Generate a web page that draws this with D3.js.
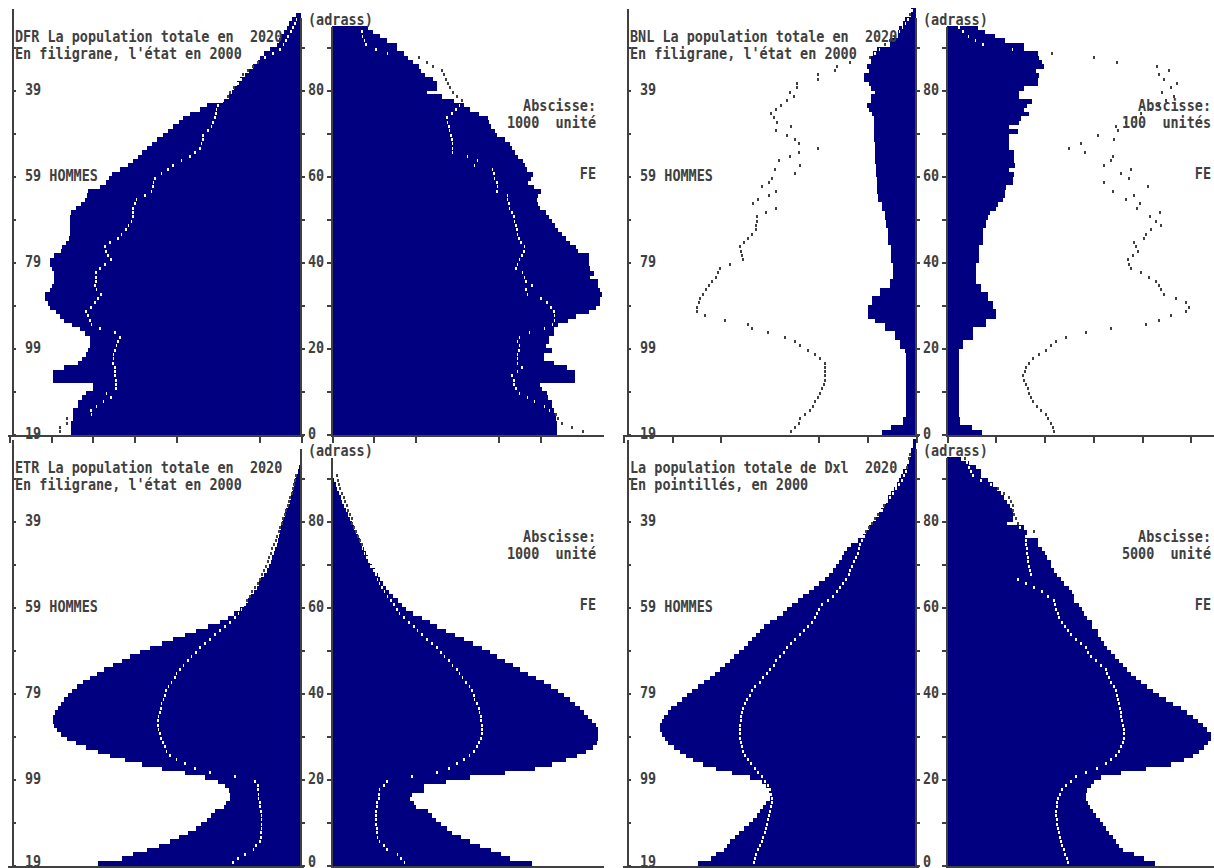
<!DOCTYPE html>
<html><head><meta charset="utf-8">
<script src="https://cdn.jsdelivr.net/npm/d3@7"></script>
<style>
body{margin:0;background:#fff}
svg{display:block}
text{font-family:"DejaVu Sans Mono","Liberation Mono",monospace;font-weight:bold;font-size:16px;fill:#404040;white-space:pre}
</style>
</head><body>
<svg id="c" width="1214" height="868"></svg>
<script>
// ---------- data (values per single year of age, index = age) ----------
const ageTicks = [80, 60, 40, 20, 0];
const birthLabels = ["39", "59 HOMMES", "79", "99", "19"];
const ageLabels = ["80", "60", "40", "20", "0"];

// DFR (units: 1000)
const dfrMen2020 = [552,552,552,547,547,547,535,535,526,516, 499,499,595,595,595,569,535,526,516,511, 506,506,506,518,530,550,569,578,588,602, 607,614,614,602,598,593,593,593,598,602, 602,593,576,574,564,557,554,554,554,554, 554,552,540,528,518,514,511,482,468,461, 454,434,415,403,391,382,370,358,346,331, 319,307,293,283,266,242,226,187,173,166, 161,154,146,134,125,115,103,98,89,74, 58,53,48,41,34,29,22,12];
const dfrWomen2020 = [540,540,540,538,538,533,528,528,518,516, 504,499,583,583,583,564,533,509,509,528, 514,521,521,533,533,542,566,586,617,634, 643,643,648,643,638,638,619,629,619,617, 617,617,590,586,571,562,552,542,535,528, 521,514,499,494,492,494,502,485,470,478, 482,468,463,458,446,439,432,427,415,396, 391,382,377,374,353,331,317,293,264,228, 252,252,242,223,214,209,194,182,173,156, 156,132,115,98,86];
const dfrMen2000 = [578,578,562,562,502,504,490,473,456,466, 444,444,444,446,446,446,451,449,449,446, 442,439,434,446,482,502,506,511,516,504, 494,487,480,490,494,492,492,492,482,470, 456,463,468,470,458,439,430,420,413,406, 403,403,403,398,394,374,358,355,353,350, 334,319,307,286,266,254,242,238,235,235, 223,214,211,206,204,202,199,185,175,170, 161,151,144,139,127,115,103,86,67,50, 41,36,31,24,19,14,10];
const dfrWomen2000 = [602,576,552,542,538,523,511,487,470,451, 442,437,437,432,446,456,446,446,446,449, 451,446,451,475,511,530,535,535,533,526, 516,502,470,466,480,466,463,458,442,446, 451,456,461,463,454,449,446,444,442,439, 437,432,427,425,422,422,396,398,396,391, 389,386,343,350,326,290,290,290,288,286, 283,281,278,276,288,298,307,312,300,290, 283,278,274,269,264,242,228,209,134,106, 82,79,74,72];

// BNL (units: 100)
const bnlMen2020 = [70,51,27,27,21,21,21,21,21,21, 21,21,21,21,21,21,21,21,21,23, 33,33,43,43,64,64,84,98,98,98, 90,90,74,74,53,53,47,47,47,47, 51,51,51,51,57,57,57,57,62,62, 64,64,70,70,78,78,80,80,80,80, 82,82,82,84,84,84,84,84,86,86, 86,86,86,86,90,96,100,92,92,84, 92,96,107,107,96,100,92,92,88,80, 53,53,37,37,35,27,23,10,10];
const bnlWomen2020 = [72,51,27,27,25,25,25,25,25,25, 25,25,25,25,25,25,25,25,25,25, 33,33,53,53,53,80,80,100,100,94, 94,84,84,70,70,59,59,59,59,59, 66,66,66,66,74,74,74,74,80,80, 84,88,100,105,115,119,119,121,135,135, 137,127,139,137,137,137,127,127,127,127, 146,127,148,152,168,158,164,174,148,148, 158,187,187,189,182,199,195,189,187,158, 158,119,98,78,64];
const bnlMen2000 = [256,248,240,238,228,217,211,207,201,197, 193,189,187,187,187,187,187,197,207,221, 238,248,269,303,336,344,392,433,449,449, 445,443,437,431,424,418,410,406,402,381, 355,357,359,361,353,344,336,328,328,326, 326,308,287,334,324,301,287,316,301,295, 248,289,238,281,258,240,201,240,248,264, 287,256,285,291,297,287,277,264,250,258, 244,244,201,201,166,162,135,94,84,74, 64,53,43,33,27,21,16,12,8];
const bnlWomen2000 = [219,217,213,207,203,193,185,176,172,168, 166,162,158,156,160,162,168,176,189,203, 213,223,244,285,336,408,435,459,490,496, 490,469,445,439,435,428,414,398,377,373, 371,381,392,387,383,404,408,418,439,428, 416,437,390,396,367,383,340,412,322,373, 357,377,322,336,340,283,250,275,342,310, 351,346,367,387,398,418,435,449,465,441, 459,472,445,435,455,431,349,301,215,135, 74,59,45,33,25];

// ETR (units: 1000)
const etrMen2020 = [487,430,403,370,341,314,293,271,252,240, 226,216,206,185,180,170,170,173,182,199, 230,278,334,382,422,458,487,516,540,562, 576,586,593,595,595,590,583,576,569,559, 550,538,523,506,490,473,451,430,410,386, 362,334,307,278,252,223,194,175,161,146, 137,127,120,113,106,101,96,89,82,77, 72,70,65,62,58,55,53,50,48,46, 43,38,36,31,26,24,22,19,17,14, 12,7,5];
const etrWomen2020 = [480,427,406,382,355,331,310,288,276,262, 250,240,230,202,197,187,192,221,221,274, 331,415,487,528,562,588,610,626,636,638, 638,638,634,624,614,605,595,583,571,557, 542,526,509,490,470,451,434,415,396,379, 360,338,317,295,274,252,235,216,194,178, 168,158,146,137,130,122,115,110,103,96, 91,86,82,77,72,67,62,58,53,48, 43,38,34,29,24,22,17,12,10,5, 2];
const etrMen2000 = [163,151,134,113,108,98,96,96,94,94, 94,94,96,98,98,101,101,103,103,110, 158,218,254,278,298,314,322,326,331,336, 338,341,343,343,341,338,336,334,329,326, 324,317,310,302,298,290,281,271,262,252, 242,230,218,206,194,182,170,158,149,142, 134,130,122,118,110,103,98,94,89,84, 79,77,72,70,65,60,58,53,50,46, 43,38,36,31,29,26,22,19,17,14, 12];
const etrWomen2000 = [175,166,158,132,125,115,110,108,108,106, 106,106,106,108,108,113,113,115,125,132, 192,252,281,300,317,331,341,348,353,358, 360,360,360,358,358,355,353,348,343,341, 336,331,322,314,307,300,290,281,271,262, 252,240,228,216,206,197,185,173,163,156, 149,142,134,127,120,115,110,106,101,94, 89,84,79,74,72,67,62,58,53,48, 48,43,38,36,31,29,24,19,17,14, 12];

// Dxl (units: 5000 scale)
const dxlMen2020 = [2616,2460,2400,2304,2268,2232,2172,2124,2064,2004, 1956,1908,1872,1836,1800,1752,1752,1764,1800,1848, 1992,2208,2400,2556,2676,2760,2832,2904,2976,3012, 3048,3072,3072,3048,3024,2976,2940,2868,2808,2748, 2688,2616,2544,2472,2412,2352,2292,2232,2184,2124, 2064,2016,1968,1920,1872,1824,1752,1668,1596,1548, 1488,1416,1356,1284,1224,1164,1092,1044,996,960, 924,888,864,828,780,696,636,600,564,516, 480,444,420,384,360,336,300,264,228,204, 180,156,108,108,84,60,60,36,36];
const dxlWomen2020 = [2496,2364,2244,2112,2064,2028,1992,1944,1908,1872, 1836,1788,1752,1716,1692,1668,1668,1680,1728,1764, 1848,2088,2388,2688,2844,2952,3024,3084,3132,3168, 3168,3120,3072,3012,2952,2880,2808,2712,2628,2544, 2472,2400,2328,2268,2208,2160,2112,2064,2016,1968, 1920,1884,1848,1812,1812,1740,1740,1680,1644,1620, 1584,1524,1524,1500,1464,1404,1368,1320,1284,1248, 1248,1200,1176,1140,1092,1092,960,960,924,720, 792,792,780,756,720,684,648,600,552,492, 408,408,348,264,168];
const dxlMen2000 = [1944,1932,1920,1896,1872,1848,1836,1812,1800,1788, 1776,1764,1752,1740,1728,1728,1740,1752,1776,1812, 1848,1896,1932,1980,2016,2052,2076,2088,2100,2112, 2112,2112,2112,2100,2100,2088,2076,2052,2028,1992, 1968,1932,1872,1836,1788,1752,1704,1680,1632,1584, 1548,1500,1452,1392,1344,1296,1248,1212,1188,1164, 1128,1056,996,948,912,876,840,804,792,768, 744,720,696,684,672,648,624,600,564,528, 492,456,408,384,348,312,276,240,204,168, 144,120,108,96,84,72];
const dxlWomen2000 = [1452,1440,1416,1404,1380,1368,1356,1344,1332,1320, 1320,1308,1308,1320,1320,1332,1356,1380,1428,1488, 1548,1668,1800,1908,1968,2028,2064,2088,2112,2124, 2124,2124,2112,2100,2088,2088,2076,2064,2052,2040, 2028,2004,1968,1944,1920,1908,1848,1788,1728,1692, 1668,1608,1548,1488,1452,1416,1380,1344,1332,1308, 1296,1284,1212,1140,1044,948,852,1008,996,984, 972,972,960,960,948,948,948,1044,876,852, 828,804,792,792,768,744,684,612,528,408, 312,288,264,240,216];

const titles1 = ["DFR La population totale en  2020", "BNL La population totale en  2020", "ETR La population totale en  2020", "La population totale de Dxl  2020"];
const titles2 = ["En filigrane, l'état en 2000", "En filigrane, l'état en 2000", "En filigrane, l'état en 2000", "En pointillés, en 2000"];
const unitTexts = ["1000  unité", "100  unités", "1000  unité", "5000  unité"];
const menTicks = [[0,100,300,400,500,600,700],[0,100,200,400,500,600],[0,100,300,400,500,600,700],[0,500,1500,2000,2500,3000,3500]];
const womenTicks = [[0,100,200,400,500],[0,100,200,300,400,500],[0,100,200,400,500],[0,500,1000,2000,2500]];

// ---------- layout ----------
const NAVY = "#000080", INK = "#404040";
const panels = [
  {ox:0,   oy:0,   k:1/2.4,  m20:dfrMen2020, f20:dfrWomen2020, m00:dfrMen2000, f00:dfrWomen2000},
  {ox:615, oy:0,   k:1/2.05, m20:bnlMen2020, f20:bnlWomen2020, m00:bnlMen2000, f00:bnlWomen2000},
  {ox:0,   oy:431, k:1/2.4,  m20:etrMen2020, f20:etrWomen2020, m00:etrMen2000, f00:etrWomen2000},
  {ox:615, oy:431, k:1/12,   m20:dxlMen2020, f20:dxlWomen2020, m00:dxlMen2000, f00:dxlWomen2000}
];

const svg = d3.select("#c");

panels.forEach((p, pi) => {
  const g = svg.append("g");
  const y = d3.scaleLinear().domain([0, 100]).range([p.oy + 434, p.oy + 4]);
  const mO = p.ox + 301, fO = p.ox + 332;
  const xm = d3.scaleLinear().domain([0, 1000]).range([mO, mO - 1000 * p.k]);
  const xf = d3.scaleLinear().domain([0, 1000]).range([fO, fO + 1000 * p.k]);

  // bars 2020
  g.append("g").selectAll("rect").data(p.m20).join("rect")
    .attr("x", d => xm(d)).attr("width", d => mO - xm(d))
    .attr("y", (d, i) => y(i + 1)).attr("height", (d, i) => y(i) - y(i + 1) + 0.6)
    .attr("fill", NAVY).attr("shape-rendering", "crispEdges");
  g.append("g").selectAll("rect").data(p.f20).join("rect")
    .attr("x", fO).attr("width", d => xf(d) - fO)
    .attr("y", (d, i) => y(i + 1)).attr("height", (d, i) => y(i) - y(i + 1) + 0.6)
    .attr("fill", NAVY).attr("shape-rendering", "crispEdges");

  // dotted 2000 outline (white inside the bars, grey outside)
  const dm = p.m00.map((v, i) => ({v, i, inside: v < (p.m20[i] || 0)}));
  const df = p.f00.map((v, i) => ({v, i, inside: v < (p.f20[i] || 0)}));
  const drawDots = (data, sx) => g.append("g").selectAll("rect").data(data).join("rect")
    .attr("x", d => sx(d.v) - 1).attr("y", d => y(d.i + 0.5) - 1.5)
    .attr("width", d => d.inside ? 1.5 : 2).attr("height", 3)
    .attr("fill", d => d.inside ? "#fff" : INK).attr("shape-rendering", "crispEdges");
  drawDots(dm, xm);
  drawDots(df, xf);

  // axis lines
  const line = (x1, y1, x2, y2) => g.append("line").attr("x1", x1).attr("y1", y1).attr("x2", x2).attr("y2", y2)
      .attr("stroke", INK).attr("stroke-width", 2).attr("shape-rendering", "crispEdges");
  line(p.ox + 12.5, p.oy + 9, p.ox + 12.5, p.oy + 437);
  line(mO - 0.5, p.oy + 18, mO - 0.5, p.oy + 436);
  line(fO - 0.5, p.oy + 27, fO - 0.5, p.oy + 436);
  line(p.ox + 8, p.oy + 435.5, p.ox + 304, p.oy + 435.5);
  line(p.ox + 331, p.oy + 435.5, p.ox + 604, p.oy + 435.5);

  const tens = d3.range(0, 100, 10);
  const styleAxis = a => { a.select(".domain").remove(); a.selectAll("line").attr("stroke", INK).attr("stroke-width", 2).attr("shape-rendering", "crispEdges"); a.selectAll("text").remove(); };
  g.append("g").attr("transform", `translate(${p.ox + 12},0)`)
    .call(d3.axisRight(y).tickValues(tens).tickSize(4).tickSizeOuter(0)).call(styleAxis);
  g.append("g").attr("transform", `translate(${mO - 1},0)`)
    .call(d3.axisRight(y).tickValues(tens).tickSize(5).tickSizeOuter(0)).call(styleAxis);
  g.append("g").attr("transform", `translate(${fO},0)`)
    .call(d3.axisLeft(y).tickValues(tens).tickSize(5).tickSizeOuter(0)).call(styleAxis);
  g.append("g").attr("transform", `translate(0,${p.oy + 435})`)
    .call(d3.axisBottom(xm).tickValues(menTicks[pi]).tickSize(8).tickSizeOuter(0)).call(styleAxis);
  g.append("g").attr("transform", `translate(0,${p.oy + 435})`)
    .call(d3.axisBottom(xf).tickValues(womenTicks[pi]).tickSize(8).tickSizeOuter(0)).call(styleAxis);

  // texts
  const txt = (x, yy, s, anchor) => g.append("text").attr("x", x).attr("y", yy)
      .attr("text-anchor", anchor || "start")
      .attr("textLength", s.length * 8.1).attr("lengthAdjust", "spacingAndGlyphs").text(s);
  txt(p.ox + 15, p.oy + 42, titles1[pi]);
  txt(p.ox + 15, p.oy + 59, titles2[pi]);
  ageTicks.forEach((a, i) => {
    const by = Math.min(y(a) + 5, 867);
    txt(p.ox + 25, by, birthLabels[i]);
    txt(p.ox + 308, by, ageLabels[i]);
  });
  txt(p.ox + 308, p.oy + 25, "(adrass)");
  txt(p.ox + 596, p.oy + 111, "Abscisse:", "end");
  txt(p.ox + 596, p.oy + 128, unitTexts[pi], "end");
  txt(p.ox + 596, p.oy + 179, "FE", "end");
});
</script>
</body></html>
